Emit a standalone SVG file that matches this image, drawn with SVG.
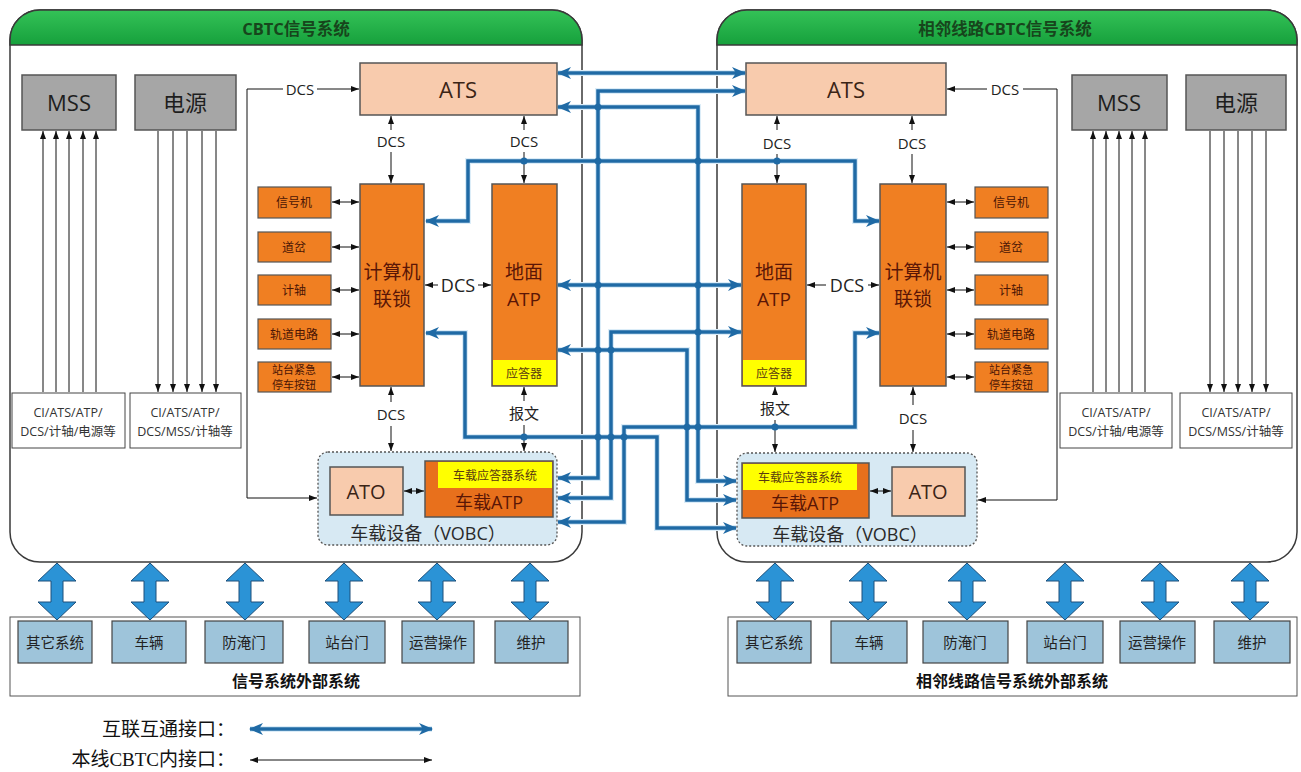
<svg xmlns="http://www.w3.org/2000/svg" width="1301" height="772" viewBox="0 0 1301 772">
  <defs>
    <style>
      text { font-family: "Open Sans", "Noto Sans CJK SC", sans-serif; text-anchor: middle; dominant-baseline: central; }
      .panel { fill: #ffffff; stroke: #3a3a3a; stroke-width: 1.5; }
      .head { fill: url(#green); stroke: #3a3a3a; stroke-width: 1.5; }
      .title { font-size: 16.5px; font-weight: bold; fill: #17451c; }
      .gray { fill: #a6a6a6; stroke: #555; stroke-width: 1.5; }
      .grayt { font-size: 22px; fill: #1e1e1e; }
      .note { fill: #ffffff; stroke: #444; stroke-width: 1; }
      .notet { font-size: 12.5px; fill: #333; }
      .peach { fill: #f8cbad; stroke: #555; stroke-width: 1.5; }
      .peacht { font-size: 22px; fill: #3b2416; }
      .orange { fill: #f07f22; stroke: #555; stroke-width: 1.5; }
      .oatp { fill: #e8701c; stroke: #555; stroke-width: 1.5; }
      .bigt { font-size: 19px; fill: #5a1606; }
      .small { fill: #f07f22; stroke: #555; stroke-width: 1.2; }
      .smallt { font-size: 12px; fill: #4a1505; }
      .tiny { font-size: 11px; fill: #4a1505; }
      .yellow { fill: #ffff00; }
      .yellowt { font-size: 12px; fill: #5a3a10; }
      .vobc { fill: #d7e9f3; stroke: #555; stroke-width: 1.3; stroke-dasharray: 2 2; }
      .vobct { font-size: 18px; fill: #2a2a2a; }
      .lbl { font-size: 15px; fill: #222; }
      .ext { fill: #9ec4da; stroke: #444; stroke-width: 1.2; }
      .extt { font-size: 14.5px; fill: #222; }
      .frame { fill: #ffffff; stroke: #555; stroke-width: 1; }
      .framet { font-size: 16px; font-weight: bold; fill: #111; }
      .fat { fill: #2b93d6; stroke: #1d4f7a; stroke-width: 1; }
      .thin { fill: none; stroke: #111; stroke-width: 1; }
      .a1 { marker-end: url(#ah); }
      .a2 { marker-start: url(#ah); marker-end: url(#ah); }
      .halo { fill: none; stroke: #dcedf8; stroke-width: 6; }
      .link { fill: none; stroke: #1f6aa5; stroke-width: 3.5; marker-start: url(#bh); marker-end: url(#bh); }
      .dot { fill: #1f6aa5; }
      .legend { font-family: "Liberation Serif", "Noto Sans CJK SC", serif; font-size: 19px; fill: #111; text-anchor: end; }
    </style>
    <linearGradient id="green" x1="0" y1="0" x2="0" y2="1">
      <stop offset="0" stop-color="#34c257"/>
      <stop offset="1" stop-color="#16a03c"/>
    </linearGradient>
    <marker id="ah" viewBox="0 0 8 6" markerWidth="8" markerHeight="6" refX="8" refY="3" orient="auto-start-reverse" markerUnits="userSpaceOnUse">
      <path d="M0,0 L8,3 L0,6 z" fill="#111"/>
    </marker>
    <marker id="bh" viewBox="0 0 14 12" markerWidth="14" markerHeight="12" refX="13" refY="6" orient="auto-start-reverse" markerUnits="userSpaceOnUse">
      <path d="M0,0 L14,6 L0,12 L4,6 z" fill="#1f6aa5"/>
    </marker>
    <path id="fatArrow" d="M0,0 L19,18 L6,18 L6,39 L19,39 L0,57 L-19,39 L-6,39 L-6,18 L-19,18 z"/>
  </defs>

  <rect width="1301" height="772" fill="#ffffff"/>

  <!-- signalling system panels -->
  <g id="panel-left">
    <rect class="panel" x="10" y="10" width="572" height="552" rx="30"/>
    <path class="head" d="M10,45 V40 A30,30 0 0 1 40,10 H552 A30,30 0 0 1 582,40 V45 Z"/>
    <text class="title" x="296" y="28">CBTC信号系统</text>
  </g>
  <g id="panel-right">
    <rect class="panel" x="717" y="10" width="580" height="552" rx="30"/>
    <path class="head" d="M717,45 V40 A30,30 0 0 1 747,10 H1267 A30,30 0 0 1 1297,40 V45 Z"/>
    <text class="title" x="1005" y="28">相邻线路CBTC信号系统</text>
  </g>

  <!-- left line equipment -->
  <g id="mss-l"><rect class="gray" x="22" y="75" width="94" height="55"/><text class="grayt" x="69" y="102">MSS</text></g>
  <g id="power-l"><rect class="gray" x="135" y="75" width="101" height="55"/><text class="grayt" x="185" y="102">电源</text></g>
  <g id="mss-scope-l"><rect class="note" x="12" y="393" width="113" height="55"/><text class="notet" x="68" y="412">CI/ATS/ATP/</text><text class="notet" x="68" y="431">DCS/计轴/电源等</text></g>
  <g id="power-scope-l"><rect class="note" x="130" y="393" width="111" height="55"/><text class="notet" x="185" y="412">CI/ATS/ATP/</text><text class="notet" x="185" y="431">DCS/MSS/计轴等</text></g>
  <g id="ats-l"><rect class="peach" x="360" y="63" width="197" height="52"/><text class="peacht" x="458" y="89">ATS</text></g>
  <g id="ci-l"><rect class="orange" x="360" y="184" width="64" height="202"/><text class="bigt" x="392" y="272">计算机</text><text class="bigt" x="392" y="299">联锁</text></g>
  <g id="atp-l"><rect class="orange" x="492" y="184" width="65" height="202"/><rect class="yellow" x="493" y="360" width="63" height="25"/><text class="bigt" x="524" y="272">地面</text><text class="bigt" x="524" y="299">ATP</text><text class="yellowt" x="524" y="373">应答器</text></g>
  <g id="sig-l"><rect class="small" x="258" y="187" width="73" height="31"/><text class="smallt" x="294" y="202">信号机</text></g>
  <g id="sw-l"><rect class="small" x="258" y="232" width="73" height="30"/><text class="smallt" x="294" y="247">道岔</text></g>
  <g id="ax-l"><rect class="small" x="258" y="275" width="73" height="30"/><text class="smallt" x="294" y="290">计轴</text></g>
  <g id="tc-l"><rect class="small" x="258" y="319" width="73" height="30"/><text class="smallt" x="294" y="334">轨道电路</text></g>
  <g id="esb-l"><rect class="small" x="258" y="362" width="73" height="30"/><text class="tiny" x="294" y="369.5">站台紧急</text><text class="tiny" x="294" y="384.5">停车按钮</text></g>
  <g id="vobc-l">
    <rect class="vobc" x="318" y="452" width="239" height="93" rx="10"/>
    <rect class="peach" x="330" y="467" width="73" height="48"/><text class="peacht" x="366" y="491" style="font-size:20px">ATO</text>
    <rect class="oatp" x="425" y="461" width="128" height="56"/>
    <rect class="yellow" x="438" y="462" width="114" height="26"/>
    <text class="yellowt" x="495" y="475">车载应答器系统</text>
    <text class="bigt" x="489" y="502" style="font-size:18px">车载ATP</text>
    <text class="vobct" x="428" y="533">车载设备（VOBC）</text>
  </g>

  <!-- right line equipment -->
  <g id="mss-r"><rect class="gray" x="1072" y="75" width="95" height="55"/><text class="grayt" x="1119" y="102">MSS</text></g>
  <g id="power-r"><rect class="gray" x="1186" y="75" width="100" height="55"/><text class="grayt" x="1236" y="102">电源</text></g>
  <g id="mss-scope-r"><rect class="note" x="1060" y="393" width="112" height="55"/><text class="notet" x="1116" y="412">CI/ATS/ATP/</text><text class="notet" x="1116" y="431">DCS/计轴/电源等</text></g>
  <g id="power-scope-r"><rect class="note" x="1180" y="393" width="112" height="55"/><text class="notet" x="1236" y="412">CI/ATS/ATP/</text><text class="notet" x="1236" y="431">DCS/MSS/计轴等</text></g>
  <g id="ats-r"><rect class="peach" x="746" y="63" width="200" height="52"/><text class="peacht" x="846" y="89">ATS</text></g>
  <g id="atp-r"><rect class="orange" x="742" y="184" width="64" height="202"/><rect class="yellow" x="743" y="360" width="62" height="25"/><text class="bigt" x="774" y="272">地面</text><text class="bigt" x="774" y="299">ATP</text><text class="yellowt" x="774" y="373">应答器</text></g>
  <g id="ci-r"><rect class="orange" x="880" y="184" width="66" height="202"/><text class="bigt" x="913" y="272">计算机</text><text class="bigt" x="913" y="299">联锁</text></g>
  <g id="sig-r"><rect class="small" x="975" y="187" width="73" height="31"/><text class="smallt" x="1011" y="202">信号机</text></g>
  <g id="sw-r"><rect class="small" x="975" y="232" width="73" height="30"/><text class="smallt" x="1011" y="247">道岔</text></g>
  <g id="ax-r"><rect class="small" x="975" y="275" width="73" height="30"/><text class="smallt" x="1011" y="290">计轴</text></g>
  <g id="tc-r"><rect class="small" x="975" y="319" width="73" height="30"/><text class="smallt" x="1011" y="334">轨道电路</text></g>
  <g id="esb-r"><rect class="small" x="975" y="362" width="73" height="30"/><text class="tiny" x="1011" y="369.5">站台紧急</text><text class="tiny" x="1011" y="384.5">停车按钮</text></g>
  <g id="vobc-r">
    <rect class="vobc" x="737" y="453" width="240" height="93" rx="10"/>
    <rect class="oatp" x="742" y="463" width="127" height="55"/>
    <rect class="yellow" x="743" y="464" width="114" height="26"/>
    <text class="yellowt" x="800" y="477">车载应答器系统</text>
    <text class="bigt" x="805" y="503" style="font-size:18px">车载ATP</text>
    <rect class="peach" x="892" y="467" width="73" height="49"/><text class="peacht" x="928" y="491" style="font-size:20px">ATO</text>
    <text class="vobct" x="850" y="534">车载设备（VOBC）</text>
  </g>

  <!-- external systems -->
  <g id="ext-left">
    <rect class="frame" x="10" y="617" width="570" height="79"/>
    <text class="framet" x="296" y="681">信号系统外部系统</text>
  </g>
  <g id="ext-l-1"><rect class="ext" x="18" y="621" width="74" height="42"/><text class="extt" x="55" y="642">其它系统</text></g>
  <g id="ext-l-2"><rect class="ext" x="112" y="621" width="74" height="42"/><text class="extt" x="149" y="642">车辆</text></g>
  <g id="ext-l-3"><rect class="ext" x="205" y="621" width="78" height="42"/><text class="extt" x="244" y="642">防淹门</text></g>
  <g id="ext-l-4"><rect class="ext" x="309" y="621" width="76" height="42"/><text class="extt" x="347" y="642">站台门</text></g>
  <g id="ext-l-5"><rect class="ext" x="402" y="621" width="72" height="42"/><text class="extt" x="438" y="642">运营操作</text></g>
  <g id="ext-l-6"><rect class="ext" x="495" y="621" width="73" height="42"/><text class="extt" x="531" y="642">维护</text></g>

  <g id="ext-right">
    <rect class="frame" x="728" y="617" width="569" height="79"/>
    <text class="framet" x="1012" y="681">相邻线路信号系统外部系统</text>
  </g>
  <g id="ext-r-1"><rect class="ext" x="737" y="621" width="74" height="42"/><text class="extt" x="774" y="642">其它系统</text></g>
  <g id="ext-r-2"><rect class="ext" x="831" y="621" width="76" height="42"/><text class="extt" x="869" y="642">车辆</text></g>
  <g id="ext-r-3"><rect class="ext" x="923" y="621" width="85" height="42"/><text class="extt" x="965" y="642">防淹门</text></g>
  <g id="ext-r-4"><rect class="ext" x="1027" y="621" width="76" height="42"/><text class="extt" x="1065" y="642">站台门</text></g>
  <g id="ext-r-5"><rect class="ext" x="1120" y="621" width="75" height="42"/><text class="extt" x="1157" y="642">运营操作</text></g>
  <g id="ext-r-6"><rect class="ext" x="1214" y="621" width="76" height="42"/><text class="extt" x="1252" y="642">维护</text></g>

  <!-- connectors -->
  <g id="connectors">
    <!-- thin internal interfaces -->
    <g class="thin">
      <!-- maintenance / power fan-out -->
      <path class="a1" d="M43,392 V131"/><path class="a1" d="M56,392 V131"/><path class="a1" d="M69,392 V131"/><path class="a1" d="M83,392 V131"/><path class="a1" d="M96,392 V131"/>
      <path class="a1" d="M158,131 V392"/><path class="a1" d="M173,131 V392"/><path class="a1" d="M187,131 V392"/><path class="a1" d="M202,131 V392"/><path class="a1" d="M216,131 V392"/>
      <path class="a1" d="M1093,392 V131"/><path class="a1" d="M1106,392 V131"/><path class="a1" d="M1119,392 V131"/><path class="a1" d="M1132,392 V131"/><path class="a1" d="M1145,392 V131"/>
      <path class="a1" d="M1210,131 V392"/><path class="a1" d="M1224,131 V392"/><path class="a1" d="M1238,131 V392"/><path class="a1" d="M1252,131 V392"/><path class="a1" d="M1266,131 V392"/>

      <!-- left line -->
      <path d="M283,89 H247 V498"/>
      <path class="a1" d="M317,89 H359"/>
      <path class="a1" d="M247,498 H317"/>
      <path class="a1" d="M391,130 V116"/>
      <path class="a1" d="M391,152 V183"/>
      <path class="a1" d="M524,130 V116"/>
      <path class="a1" d="M524,152 V183"/>
      <path class="a1" d="M438,285 H425"/>
      <path class="a1" d="M478,285 H491"/>
      <path class="a1" d="M391,402 V387"/>
      <path class="a1" d="M391,426 V451"/>
      <path class="a1" d="M524,401 V387"/>
      <path class="a1" d="M524,425 V451"/>
      <path class="a2" d="M404,491 H424"/>
      <path class="a2" d="M332,202 H359"/><path class="a2" d="M332,247 H359"/><path class="a2" d="M332,290 H359"/><path class="a2" d="M332,334 H359"/><path class="a2" d="M332,377 H359"/>

      <!-- right line -->
      <path d="M1023,89 H1057 V500"/>
      <path class="a1" d="M987,89 H947"/>
      <path class="a1" d="M1057,500 H978"/>
      <path class="a1" d="M777,130 V116"/>
      <path class="a1" d="M777,154 V183"/>
      <path class="a1" d="M912,130 V116"/>
      <path class="a1" d="M912,154 V183"/>
      <path class="a1" d="M826,285 H807"/>
      <path class="a1" d="M868,285 H879"/>
      <path class="a1" d="M913,405 V387"/>
      <path class="a1" d="M913,430 V452"/>
      <path class="a1" d="M775,395 V387"/>
      <path class="a1" d="M775,420 V452"/>
      <path class="a2" d="M870,491 H891"/>
      <path class="a2" d="M947,202 H974"/><path class="a2" d="M947,247 H974"/><path class="a2" d="M947,290 H974"/><path class="a2" d="M947,334 H974"/><path class="a2" d="M947,377 H974"/>
    </g>
    <text class="lbl" x="300" y="89">DCS</text>
    <text class="lbl" x="391" y="141">DCS</text>
    <text class="lbl" x="524" y="141">DCS</text>
    <text class="lbl" x="458" y="285" style="font-size:18px">DCS</text>
    <text class="lbl" x="391" y="414">DCS</text>
    <text class="lbl" x="524" y="413">报文</text>
    <text class="lbl" x="1005" y="89">DCS</text>
    <text class="lbl" x="777" y="143">DCS</text>
    <text class="lbl" x="912" y="143">DCS</text>
    <text class="lbl" x="847" y="285" style="font-size:18px">DCS</text>
    <text class="lbl" x="913" y="418">DCS</text>
    <text class="lbl" x="775" y="408">报文</text>

    <!-- interoperability interfaces between the two lines -->
    <g class="halo">
      <path d="M558,73 H745"/>
      <path d="M745,91 H598 V478 H558"/>
      <path d="M558,107 H698 V481 H736"/>
      <path d="M426,221 H468 V161 H855 V221 H879"/>
      <path d="M558,285 H741"/>
      <path d="M558,498 H611 V332 H741"/>
      <path d="M558,350 H687 V500 H736"/>
      <path d="M426,333 H465 V437 H657 V528 H736"/>
      <path d="M558,522 H624 V427 H855 V333 H879"/>
    </g>
    <g class="link">
      <path d="M558,73 H745"/>
      <path d="M745,91 H598 V478 H558"/>
      <path d="M558,107 H698 V481 H736"/>
      <path d="M426,221 H468 V161 H855 V221 H879"/>
      <path d="M558,285 H741"/>
      <path d="M558,498 H611 V332 H741"/>
      <path d="M558,350 H687 V500 H736"/>
      <path d="M426,333 H465 V437 H657 V528 H736"/>
      <path d="M558,522 H624 V427 H855 V333 H879"/>
    </g>
    <g class="dot">
      <circle cx="598" cy="107" r="3.5"/>
      <circle cx="598" cy="161" r="3.5"/>
      <circle cx="698" cy="161" r="3.5"/>
      <circle cx="524" cy="161" r="3.5"/>
      <circle cx="777" cy="161" r="3.5"/>
      <circle cx="598" cy="285" r="3.5"/>
      <circle cx="698" cy="285" r="3.5"/>
      <circle cx="698" cy="332" r="3.5"/>
      <circle cx="598" cy="350" r="3.5"/>
      <circle cx="611" cy="350" r="3.5"/>
      <circle cx="687" cy="427" r="3.5"/>
      <circle cx="698" cy="427" r="3.5"/>
      <circle cx="775" cy="427" r="3.5"/>
      <circle cx="524" cy="437" r="3.5"/>
      <circle cx="598" cy="437" r="3.5"/>
      <circle cx="611" cy="437" r="3.5"/>
      <circle cx="624" cy="437" r="3.5"/>
    </g>

    <!-- links to external systems -->
    <g class="fat">
      <use href="#fatArrow" x="57" y="563"/>
      <use href="#fatArrow" x="150" y="563"/>
      <use href="#fatArrow" x="245" y="563"/>
      <use href="#fatArrow" x="344" y="563"/>
      <use href="#fatArrow" x="437" y="563"/>
      <use href="#fatArrow" x="530" y="563"/>
      <use href="#fatArrow" x="775" y="563"/>
      <use href="#fatArrow" x="868" y="563"/>
      <use href="#fatArrow" x="967" y="563"/>
      <use href="#fatArrow" x="1065" y="563"/>
      <use href="#fatArrow" x="1160" y="563"/>
      <use href="#fatArrow" x="1250" y="563"/>
    </g>
  </g>

  <!-- legend -->
  <g id="legend">
    <text class="legend" x="235" y="729">互联互通接口：</text>
    <text class="legend" x="235" y="759">本线CBTC内接口：</text>
    <path class="halo" d="M250,729 H432"/>
    <path class="link" d="M250,729 H432"/>
    <path class="thin a2" d="M250,760 H432"/>
  </g>
</svg>
